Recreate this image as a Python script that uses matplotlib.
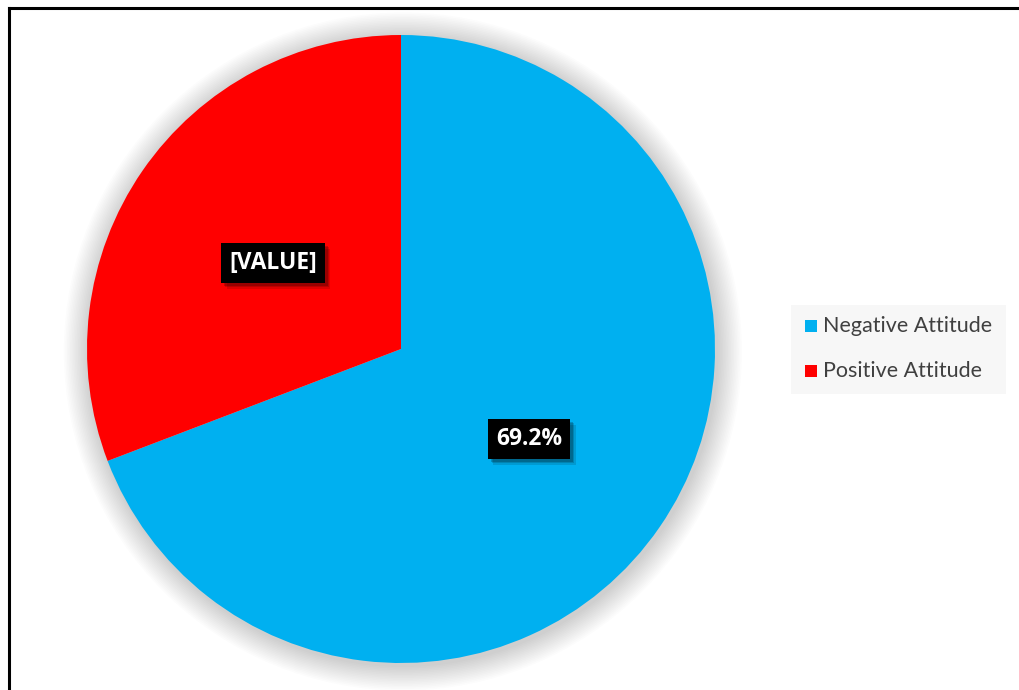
import matplotlib.pyplot as plt
import matplotlib.patheffects as pe
from matplotlib.patches import Circle, Rectangle

labels = ['Negative Attitude', 'Positive Attitude']
values = [69.2, 30.8]
colors = ['#00B0F0', '#FF0000']
slice_text = ['69.2%', '[VALUE]']

W, H = 1019, 690
fig = plt.figure(figsize=(W / 100, H / 100), dpi=100)

# outer frame (only left and top edges visible)
fig.add_artist(plt.Line2D([8.5 / W, 8.5 / W], [0, 1 - 7.5 / H], color='black', lw=2.2))
fig.add_artist(plt.Line2D([8.5 / W, 1], [1 - 7.5 / H, 1 - 7.5 / H], color='black', lw=2.2))

# pie axes: centre (401,349) radius 314 px
cx, cy, r = 401, 349, 314
ax = fig.add_axes([(cx - r) / W, (H - cy - r) / H, 2 * r / W, 2 * r / H])

# soft shadow
for i in range(16):
    rr = 1.0 + 0.005 * (i + 1)
    ax.add_patch(Circle((0.006, -0.008), rr, color='black', alpha=0.012, lw=0, zorder=0, clip_on=False))

wedges, _ = ax.pie(values, colors=colors, startangle=90, counterclock=False,
                   radius=1.0, wedgeprops=dict(linewidth=0))
for w in wedges:
    w.set_zorder(2)
ax.set_xlim(-1, 1)
ax.set_ylim(-1, 1)
ax.set_aspect('equal')
ax.axis('off')

# data labels with black boxes and a drop shadow
label_pos = [(529, 439), (273, 263)]
for txt, (px, py) in zip(slice_text, label_pos):
    x = (px - cx) / r
    y = -(py - cy) / r
    t = ax.text(x, y, txt, ha='center', va='center', fontsize=16.5, fontweight='bold',
                family='Open Sans', color='white', zorder=4,
                bbox=dict(boxstyle='square,pad=0.35', fc='black', ec='none'))
    t.get_bbox_patch().set_path_effects([
        pe.SimplePatchShadow(offset=(4, -4), shadow_rgbFace='black', alpha=0.12),
        pe.SimplePatchShadow(offset=(3, -3), shadow_rgbFace='black', alpha=0.15),
        pe.SimplePatchShadow(offset=(2, -2), shadow_rgbFace='black', alpha=0.2),
        pe.Normal()])

# legend
fig.add_artist(Rectangle((791 / W, (H - 394) / H), 215 / W, 89 / H,
                         transform=fig.transFigure, fc='#F7F7F7', ec='none'))
leg_y = [326, 371]
for lab, col, ly in zip(labels, colors, leg_y):
    fig.add_artist(Rectangle((805 / W, (H - ly - 6) / H), 12 / W, 12 / H,
                             transform=fig.transFigure, fc=col, ec='none'))
    fig.text(823 / W, (H - ly) / H, lab, ha='left', va='center', fontsize=15.5,
             family='Lato', color='#404040')

fig.savefig('out.png', dpi=100)
